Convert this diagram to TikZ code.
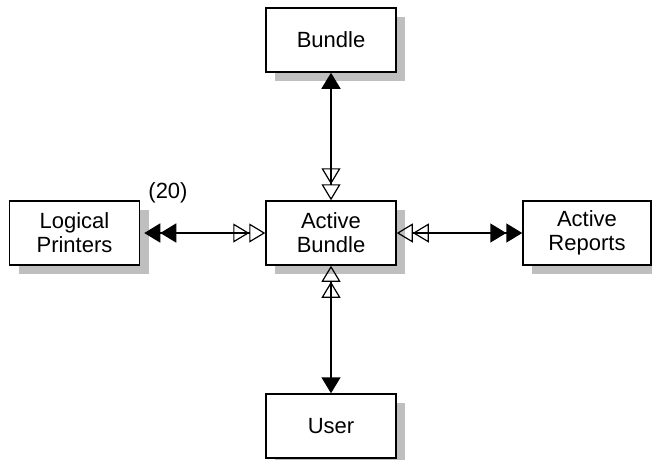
\documentclass[tikz,border=0pt]{standalone}
\usepackage{fontspec}
\setmainfont{Liberation Sans}
\usetikzlibrary{arrows.meta}
\usetikzlibrary{shadows}
\tikzset{
  entity/.style={rectangle,draw,line width=1.5pt,fill=white,align=center,
    minimum width=130pt,minimum height=64pt,inner sep=0pt,
    font=\fontsize{22}{24}\selectfont,
    general shadow={fill=black!25,shadow xshift=9pt,shadow yshift=-9pt}},
  label/.style={font=\fontsize{22}{24}\selectfont},
  link/.style={line width=1.5pt},
  FTip/.tip={Triangle[length=16pt,width=19pt]},
  OTip/.tip={Triangle[open,length=16pt,width=19pt,line width=1.2pt]}
}
\begin{document}
\begin{tikzpicture}
  \useasboundingbox (0,0) rectangle (652pt,-459pt);
  \node [entity] (active) at (331pt,-233pt) {Active\\Bundle};
  \node [entity] (bundle) at (331pt,-40pt) {Bundle};
  \node [entity] (user) at (331pt,-426pt) {User};
  \node [entity] (printers) at (74.5pt,-233pt) {Logical\\Printers};
  \node [entity,minimum width=128pt] (reports) at (587pt,-233pt) {Active\\Reports};
  \node [label] (count) at (168pt,-193pt) {(20)};
  % connectors
  \draw [link,{FTip[]}-{OTip[]OTip[]}] (bundle) -- (active);
  \draw [link,{FTip[]}-{OTip[]OTip[]}] (user) -- (active);
  \draw [link,{FTip[sep=4pt]FTip[]}-{OTip[]OTip[]}] (printers) -- (active);
  \draw [link,{FTip[]FTip[]}-{OTip[]OTip[]}] (reports) -- (active);
\end{tikzpicture}
\end{document}
